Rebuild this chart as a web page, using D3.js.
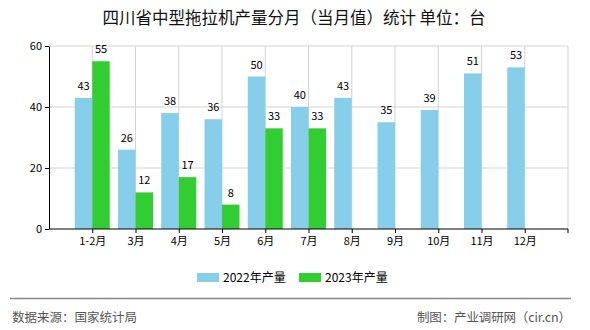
<!DOCTYPE html>
<html><head><meta charset="utf-8">
<script src="https://cdn.jsdelivr.net/npm/d3@7"></script>
<style>body{margin:0;background:#fff;}svg{display:block;font-family:"Noto Sans CJK SC","Noto Sans",sans-serif;}</style>
</head><body>
<svg id="c" width="590" height="330"></svg>
<script>
const categories = ["1-2月","3月","4月","5月","6月","7月","8月","9月","10月","11月","12月"];
const values2022 = [43,26,38,36,50,40,43,35,39,51,53];
const values2023 = [55,12,17,8,33,33,null,null,null,null,null];
const seriesNames = ["2022年产量","2023年产量"];
const yTicks = [0,20,40,60];
const colors = ["#87CEEB","#32CD32"];

const svg = d3.select("#c");
const L=49, R=568, T=46, B=229, step=(R-L)/12, bw=17.5;
const x = d3.scalePoint().domain(categories).range([L+step, R-step]);
const y = d3.scaleLinear().domain([0,60]).range([B,T]);

svg.append("text").attr("x",294).attr("y",24).attr("text-anchor","middle")
  .attr("font-size",16.5).attr("fill","#111").text("四川省中型拖拉机产量分月（当月值）统计 单位：台");

// grid
const g = svg.append("g");
g.selectAll(".hg").data(yTicks.filter(d=>d>0)).join("line")
  .attr("x1",L).attr("x2",R).attr("y1",d=>y(d)).attr("y2",d=>y(d)).attr("stroke","#d3d3d3");
g.selectAll(".vg").data(categories).join("line")
  .attr("x1",d=>x(d)).attr("x2",d=>x(d)).attr("y1",T).attr("y2",B).attr("stroke","#d3d3d3");
g.append("line").attr("x1",R).attr("x2",R).attr("y1",T).attr("y2",B).attr("stroke","#d3d3d3");

// bars
const series=[values2022,values2023];
series.forEach((vals,si)=>{
  const data = categories.map((c,i)=>({c,v:vals[i]})).filter(d=>d.v!=null);
  svg.append("g").selectAll("rect").data(data).join("rect")
    .attr("x",d=>x(d.c)+(si===0?-bw:0)).attr("width",bw)
    .attr("y",d=>y(d.v)).attr("height",d=>B-y(d.v)).attr("fill",colors[si]);
  svg.append("g").selectAll("text").data(data).join("text")
    .attr("x",d=>x(d.c)+(si===0?-bw/2:bw/2)).attr("y",d=>y(d.v)-8)
    .attr("text-anchor","middle").attr("font-size",11).attr("fill","#000").text(d=>d.v);
});

// axes
const ya = svg.append("g").attr("transform",`translate(${L},0)`)
  .call(d3.axisLeft(y).tickValues(yTicks).tickSize(4).tickSizeOuter(0));
ya.select(".domain").attr("stroke","#000");
ya.selectAll("text").attr("font-size",11).attr("fill","#000").attr("font-family","'Noto Sans CJK SC',sans-serif");
const xa = svg.append("g").attr("transform",`translate(0,${B})`)
  .call(d3.axisBottom(x).tickSize(4).tickSizeOuter(0).tickPadding(4));
xa.select(".domain").remove();
xa.selectAll("text").attr("font-size",11).attr("fill","#000").attr("font-family","'Noto Sans CJK SC',sans-serif");
svg.append("line").attr("x1",L).attr("x2",R).attr("y1",B).attr("y2",B).attr("stroke","#000");
svg.append("line").attr("x1",R).attr("x2",R).attr("y1",B).attr("y2",B+4).attr("stroke","#000");

// legend
const lx=[197,299];
seriesNames.forEach((n,i)=>{
  svg.append("rect").attr("x",lx[i]).attr("y",273).attr("width",22).attr("height",9).attr("fill",colors[i]);
  svg.append("text").attr("x",lx[i]+26).attr("y",282).attr("font-size",12).attr("fill","#000").text(n);
});

// footer
svg.append("line").attr("x1",10).attr("x2",571).attr("y1",298.5).attr("y2",298.5).attr("stroke","#888").attr("stroke-width",1.5);
svg.append("text").attr("x",12).attr("y",322).attr("font-size",12.5).attr("fill","#555").text("数据来源：国家统计局");
svg.append("text").attr("x",417).attr("y",322).attr("font-size",12.5).attr("fill","#555")
  .attr("textLength",154).attr("lengthAdjust","spacing").text("制图：产业调研网（cir.cn）");
</script>
</body></html>
